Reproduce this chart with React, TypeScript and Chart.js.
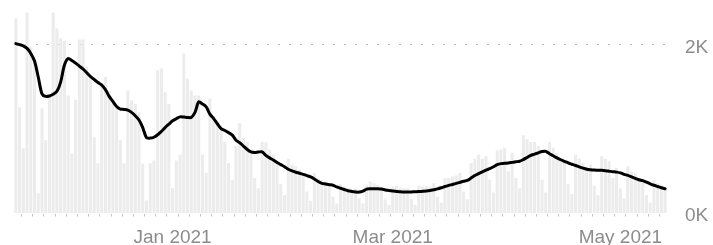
import React, { useEffect, useRef } from 'react';
import { Chart, registerables } from 'chart.js';

Chart.register(...registerables);

// First day of the daily series (UTC): Nov 20, 2020
const START_YEAR = 2020;
const START_MONTH = 10; // 0-based, November
const START_DAY = 20;

// Daily reported values (light grey bars)
const dailyValues: number[] = [
  2316, 1262, 775, 2387, 1975, 1800, 240,
  1250, 870, 1400, 2387, 2200, 2080, 2050,
  1400, 710, 1350, 2065, 2065, 1740, 1600,
  905, 595, 1550, 1620, 1450, 1350, 1280,
  870, 595, 1460, 1345, 1300, 1200, 590,
  155, 600, 630, 1700, 1725, 1440, 1300,
  300, 630, 700, 1900, 1600, 1460, 1400,
  1400, 700, 480, 1365, 1150, 1050, 1000,
  850, 600, 400, 800, 1070, 900, 850,
  720, 420, 300, 850, 845, 760, 700,
  600, 350, 220, 650, 580, 560, 520,
  450, 260, 150, 480, 420, 400, 380,
  350, 200, 120, 350, 320, 300, 280,
  300, 180, 120, 340, 380, 360, 340,
  320, 170, 100, 320, 330, 310, 300,
  300, 170, 100, 330, 320, 320, 320,
  360, 200, 130, 420, 420, 440, 450,
  480, 260, 170, 600, 650, 700, 650,
  680, 400, 250, 750, 760, 780, 500,
  720, 420, 300, 930, 880, 850, 850,
  800, 400, 250, 850, 780, 720, 650,
  620, 350, 230, 700, 650, 600, 560,
  580, 330, 220, 680, 650, 620, 420,
  540, 300, 180, 560, 500, 480, 420,
  380, 220, 130, 400, 360, 340, 300,
];

// 7-day average (black line)
const averageValues: number[] = [
  2016, 2005, 1990, 1960, 1900, 1810, 1620, 1420, 1390, 1395,
  1415, 1450, 1560, 1760, 1840, 1815, 1785, 1750, 1715, 1670,
  1625, 1590, 1555, 1525, 1470, 1390, 1330, 1270, 1240, 1235,
  1226, 1200, 1160, 1110, 1020, 900, 895, 905, 935, 975,
  1020, 1060, 1100, 1125, 1147, 1145, 1140, 1140, 1200, 1325,
  1300, 1265, 1180, 1127, 1065, 1008, 985, 960, 930, 870,
  840, 800, 760, 731, 725, 730, 731, 690, 660, 635,
  605, 580, 555, 525, 505, 490, 478, 465, 450, 435,
  410, 380, 358, 350, 342, 335, 315, 300, 285, 270,
  262, 256, 254, 265, 290, 294, 294, 294, 290, 280,
  272, 266, 262, 258, 255, 254, 256, 258, 260, 263,
  266, 272, 282, 292, 305, 320, 334, 345, 358, 370,
  382, 392, 420, 450, 473, 495, 515, 532, 555, 580,
  592, 595, 600, 607, 614, 620, 640, 665, 690, 705,
  720, 735, 738, 710, 685, 660, 638, 620, 600, 585,
  570, 553, 538, 526, 520, 516, 513, 512, 508, 502,
  496, 491, 482, 465, 452, 435, 418, 400, 390, 372,
  352, 335, 320, 305, 294,
];

const yTickValues: number[] = [0, 2000];
const xTickDates: string[] = ['2021-01-01', '2021-03-01', '2021-05-01'];
const xTickLabels: string[] = ['Jan 2021', 'Mar 2021', 'May 2021'];

function buildDates(n: number): string[] {
  const out: string[] = [];
  for (let i = 0; i < n; i++) {
    const dt = new Date(Date.UTC(START_YEAR, START_MONTH, START_DAY + i));
    out.push(dt.toISOString().slice(0, 10));
  }
  return out;
}

const FONT = '"Liberation Sans", Arial, Helvetica, sans-serif';
const TEXT_COLOR = '#8c8c8c';

export default function App() {
  const canvasRef = useRef<HTMLCanvasElement | null>(null);

  useEffect(() => {
    if (!canvasRef.current) return;
    const dates = buildDates(dailyValues.length);
    const chart = new Chart(canvasRef.current, {
      type: 'bar',
      data: {
        labels: dates,
        datasets: [
          {
            type: 'line',
            data: averageValues,
            borderColor: '#000000',
            borderWidth: 3,
            pointRadius: 0,
            tension: 0.3,
            borderJoinStyle: 'round',
            borderCapStyle: 'round',
            clip: false,
            order: 0,
          } as any,
          {
            type: 'bar',
            data: dailyValues,
            backgroundColor: '#ececec',
            barPercentage: 0.82,
            categoryPercentage: 1,
            order: 1,
          } as any,
        ],
      },
      options: {
        animation: false,
        responsive: false,
        maintainAspectRatio: false,
        layout: { padding: { left: 14, right: 0, top: 0, bottom: 0 } },
        plugins: { legend: { display: false }, tooltip: { enabled: false } },
        scales: {
          x: {
            offset: true,
            border: { display: false },
            grid: {
              offset: true,
              drawOnChartArea: false,
              drawTicks: true,
              tickLength: 3,
              lineWidth: 1,
              color: (ctx: any) => (ctx.index % 3 === 2 ? '#c4c4c4' : 'rgba(0,0,0,0)'),
            },
            ticks: {
              autoSkip: false,
              maxRotation: 0,
              minRotation: 0,
              padding: 10,
              color: TEXT_COLOR,
              font: { family: FONT, size: 19 },
              callback: (_v: any, i: number) => {
                const k = xTickDates.indexOf(dates[i]);
                return k >= 0 ? xTickLabels[k] : '';
              },
            },
            afterFit: (s: any) => {
              s.height = 31.5;
              s.paddingLeft = 0;
              s.paddingRight = 0;
              s.paddingTop = 0;
              s.paddingBottom = 0;
            },
          },
          y: {
            position: 'right',
            min: 0,
            max: 2534,
            border: { display: false, dash: [2, 9] },
            grid: {
              drawTicks: false,
              lineWidth: 1,
              color: (ctx: any) =>
                ctx.tick && ctx.tick.value === 2000 ? '#b8b8b8' : 'rgba(0,0,0,0)',
            },
            afterBuildTicks: (s: any) => {
              s.ticks = yTickValues.map((v) => ({ value: v }));
            },
            ticks: {
              padding: 18,
              labelOffset: 2.5,
              color: TEXT_COLOR,
              font: { family: FONT, size: 19 },
              callback: (v: any) => `${Number(v) / 1000}K`,
            },
            afterFit: (s: any) => {
              s.width = 46;
              s.paddingTop = 0;
              s.paddingBottom = 0;
              s.paddingLeft = 0;
              s.paddingRight = 0;
            },
          },
        },
      } as any,
    });
    return () => chart.destroy();
  }, []);

  return (
    <div style={{ position: 'fixed', left: 0, top: 0, width: 713, height: 245, background: '#fff' }}>
      <canvas
        ref={canvasRef}
        width={713}
        height={245}
        style={{ width: 713, height: 245, display: 'block' }}
      />
    </div>
  );
}
